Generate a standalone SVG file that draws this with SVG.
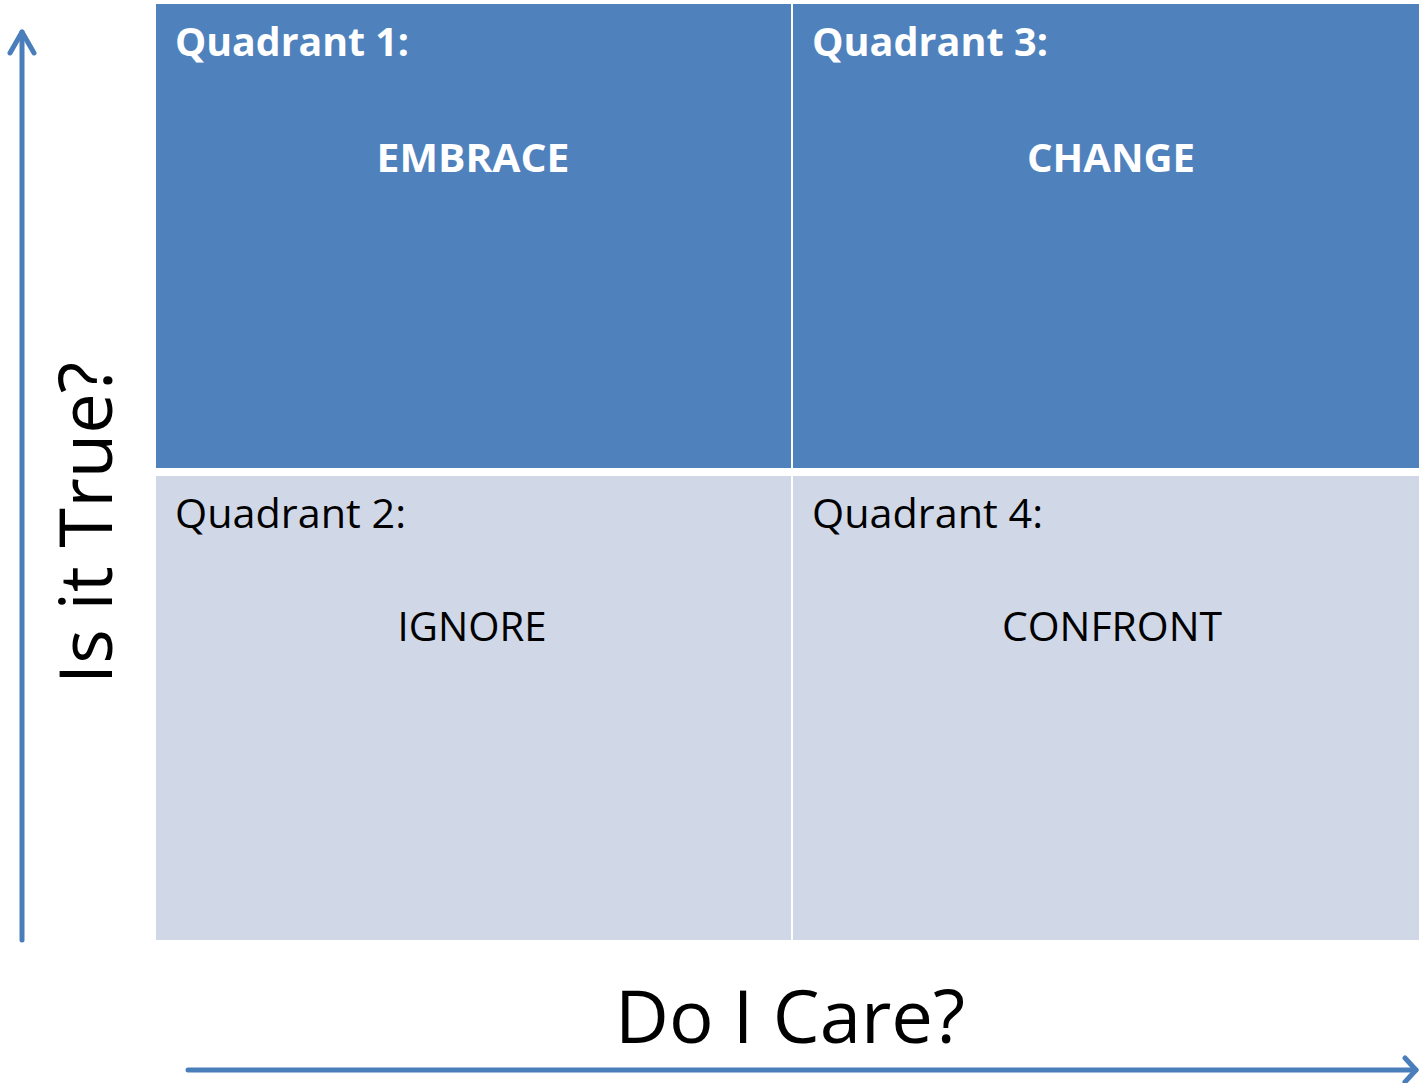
<svg xmlns="http://www.w3.org/2000/svg" width="1419" height="1083" viewBox="0 0 1419 1083">
  <style>
    .dark { fill: #4F81BD; }
    .light { fill: #D0D8E8; }
    .hdr { font-family: "Open Sans", "Noto Sans", sans-serif; font-size: 40px; }
    .lbl { font-family: "Open Sans", "Noto Sans", sans-serif; font-size: 40px; text-anchor: middle; }
    .wt { fill: #FFFFFF; font-weight: bold; }
    .bk { fill: #000000; }
    .axis { font-family: "Open Sans", "Noto Sans", sans-serif; font-size: 73px; fill: #000000; text-anchor: middle; }
    .arrow { fill: none; stroke: #4A7EBB; stroke-width: 5; stroke-linecap: round; stroke-linejoin: round; }
  </style>

  <rect width="1419" height="1083" fill="#FFFFFF"/>

  <!-- quadrant cells -->
  <g id="quadrant1">
    <rect class="dark" x="156" y="4" width="635" height="464"/>
    <text class="hdr wt" x="175" y="56" textLength="234" lengthAdjust="spacingAndGlyphs">Quadrant 1:</text>
    <text class="lbl wt" x="473" y="172" textLength="193" lengthAdjust="spacingAndGlyphs">EMBRACE</text>
  </g>
  <g id="quadrant3">
    <rect class="dark" x="793" y="4" width="626" height="464"/>
    <text class="hdr wt" x="812" y="56" textLength="236" lengthAdjust="spacingAndGlyphs">Quadrant 3:</text>
    <text class="lbl wt" x="1111" y="172" textLength="168" lengthAdjust="spacingAndGlyphs">CHANGE</text>
  </g>
  <g id="quadrant2">
    <rect class="light" x="156" y="476" width="635" height="464"/>
    <text class="hdr bk" x="175" y="528" textLength="231" lengthAdjust="spacingAndGlyphs">Quadrant 2:</text>
    <text class="lbl bk" x="472" y="641" textLength="149" lengthAdjust="spacingAndGlyphs">IGNORE</text>
  </g>
  <g id="quadrant4">
    <rect class="light" x="793" y="476" width="626" height="464"/>
    <text class="hdr bk" x="812" y="528" textLength="231" lengthAdjust="spacingAndGlyphs">Quadrant 4:</text>
    <text class="lbl bk" x="1112" y="641" textLength="220" lengthAdjust="spacingAndGlyphs">CONFRONT</text>
  </g>

  <!-- axis titles -->
  <g id="axis-y-label">
    <text class="axis" transform="translate(112 523) rotate(-90)" x="0" y="0" textLength="322" lengthAdjust="spacingAndGlyphs">Is it True?</text>
  </g>
  <g id="axis-x-label">
    <text class="axis" x="790" y="1043" textLength="350" lengthAdjust="spacingAndGlyphs">Do I Care?</text>
  </g>

  <!-- axis arrows -->
  <g id="connectors">
    <line class="arrow" x1="22" y1="940" x2="22" y2="32"/>
    <polyline class="arrow" points="10,53 22,32 34,53"/>
    <line class="arrow" x1="188" y1="1070" x2="1416" y2="1070"/>
    <polyline class="arrow" points="1405,1058 1416,1070 1405,1082"/>
  </g>
</svg>
